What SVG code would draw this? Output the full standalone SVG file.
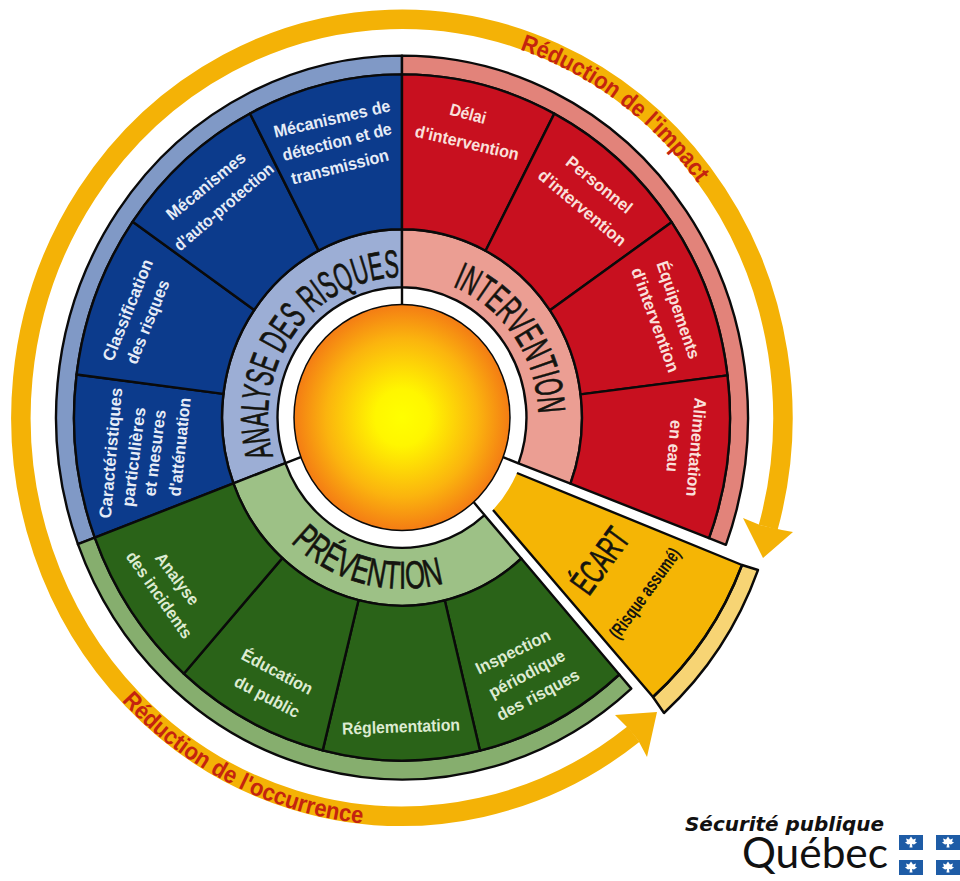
<svg xmlns="http://www.w3.org/2000/svg" xmlns:xlink="http://www.w3.org/1999/xlink" width="960" height="881" viewBox="0 0 960 881">
<style>
.s{stroke:#0a0a0a;stroke-width:2.4;stroke-linejoin:round}
.bB{fill:#8099C6}.mB{fill:#9CAED5}.dB{fill:#0C3B8C}
.bR{fill:#E2837A}.mR{fill:#EB9E93}.dR{fill:#C8101F}
.bG{fill:#86AE6E}.mG{fill:#9DC186}.dG{fill:#2A6318}
.l{font:bold 17px "Liberation Sans",Arial,sans-serif;dominant-baseline:central}
.lB{fill:#E6ECF7}.lR{fill:#FAE0DC}.lG{fill:#DDEBD2}
.h{font:39px "Liberation Sans",Arial,sans-serif;fill:#14140f;stroke:#14140f;stroke-width:.7}
.r{font:bold 24px "Liberation Sans",Arial,sans-serif;fill:#C4240F}
.gold{fill:#F4B206}
.fl{fill:#1E5CA6}.fd{fill:#fff}
</style>
<defs>
<radialGradient id="sunG" cx="50%" cy="50%" r="50%">
<stop offset="0" stop-color="#FFFF00"/><stop offset=".25" stop-color="#FFF600"/><stop offset=".7" stop-color="#FBB40E"/><stop offset="1" stop-color="#F47C14"/>
</radialGradient>
<path id="pA" d="M273.2,456.1A134 140.2 0 0 1 413,277.7"/>
<path id="pI" d="M452.6,286.5A135 141.2 0 0 1 538,430"/>
<path id="pP" d="M290.8,542.2A163 170.5 0 0 0 460,578"/>
<path id="pM" d="M519.7,49.5A371 388 0 0 1 702.1,189.4"/>
<path id="pO" d="M121.5,700.9A390 408 0 0 0 371.4,824.2"/>
<g id="fleur"><path class="fd" d="M0,-6 L2,-3 L5,-4 L4,-1 L6,0 L3,2 L1,1.5 L1.5,5 L-1.5,5 L-1,1.5 L-3,2 L-6,0 L-4,-1 L-5,-4 L-2,-3Z"/></g>
</defs>

<g id="connectors">
<path d="M768.2,527.3A381 398.5 0 1 0 633.5,734.1" fill="none" stroke="#F4B206" stroke-width="19.5"/>
<polygon class="gold" points="760,525 743,518 763,558 793,532 782,530"/>
<polygon class="gold" points="627,727 615,715 657,712 647,757 638,740"/>
<text class="r"><textPath xlink:href="#pM" href="#pM" textLength="226" lengthAdjust="spacingAndGlyphs">Réduction de l'impact</textPath></text>
<text class="r"><textPath xlink:href="#pO" href="#pO" textLength="276" lengthAdjust="spacingAndGlyphs">Réduction de l'occurrence</textPath></text>
</g>

<g id="centre">
<ellipse cx="402" cy="417.5" rx="124.5" ry="130.2" fill="#fff"/>
<path class="s" d="M402,304.5V287.3M503.1,457.2L518.5,463.3M473.6,502.1L484.5,515.1M300.8,457.1L285.4,463.1" fill="none"/>
<ellipse class="s" cx="402" cy="417.5" rx="108" ry="113" fill="url(#sunG)" style="stroke-width:1.5"/>
</g>

<g id="analyse-des-risques">
<path class="s bB" d="M94.8,537.7L77.9,544.2A346 361.9 0 0 1 402,55.6V74.4A328 343.1 0 0 0 94.8,537.7Z"/>
<path class="s mB" d="M285.4,463.1L233.4,483.4A180 188.3 0 0 1 402,229.2V287.3A124.5 130.2 0 0 0 285.4,463.1Z"/>
<text class="h"><textPath xlink:href="#pA" href="#pA" textLength="252" lengthAdjust="spacingAndGlyphs">ANALYSE DES RISQUES</textPath></text>
</g>
<g id="intervention">
<path class="s bR" d="M402,55.6A346 361.9 0 0 1 725.9,544.8L709,538.2A328 343.1 0 0 0 402,74.4Z"/>
<path class="s mR" d="M402,287.3V229.2A180 188.3 0 0 1 570.5,483.7L518.5,463.3A124.5 130.2 0 0 0 402,287.3Z"/>
<text class="h"><textPath xlink:href="#pI" href="#pI" textLength="162" lengthAdjust="spacingAndGlyphs">INTERVENTION</textPath></text>
</g>
<g id="prevention">
<path class="s bG" d="M631.3,688.6A346 361.9 0 0 1 77.9,544.2L94.8,537.7A328 343.1 0 0 0 619.3,674.5Z"/>
<path class="s mG" d="M484.5,515.1L521.3,558.5A180 188.3 0 0 1 233.4,483.4L285.4,463.1A124.5 130.2 0 0 0 484.5,515.1Z"/>
<text class="h"><textPath xlink:href="#pP" href="#pP" textLength="166" lengthAdjust="spacingAndGlyphs">PRÉVENTION</textPath></text>
</g>

<g id="caracteristiques">
<path class="s dB" d="M233.4,483.4L94.8,537.7A328 343.1 0 0 1 76.6,374.5L223.4,393.9A180 188.3 0 0 0 233.4,483.4Z"/>
<text class="l lB" transform="translate(111 453) rotate(-85)" x="-65.5" textLength="131" lengthAdjust="spacingAndGlyphs">Caractéristiques</text>
<text class="l lB" transform="translate(134 457) rotate(-83)" x="-50" textLength="100" lengthAdjust="spacingAndGlyphs">particulières</text>
<text class="l lB" transform="translate(155 453) rotate(-83)" x="-43.5" textLength="87" lengthAdjust="spacingAndGlyphs">et mesures</text>
<text class="l lB" transform="translate(180 447) rotate(-84)" x="-49.5" textLength="99" lengthAdjust="spacingAndGlyphs">d'atténuation</text>
</g>
<g id="classification">
<path class="s dB" d="M223.4,393.9L76.6,374.5A328 343.1 0 0 1 132.7,221.7L254.2,310A180 188.3 0 0 0 223.4,393.9Z"/>
<text class="l lB" transform="translate(128 310) rotate(-68)" x="-54" textLength="108" lengthAdjust="spacingAndGlyphs">Classification</text>
<text class="l lB" transform="translate(148 322) rotate(-68)" x="-44.5" textLength="89" lengthAdjust="spacingAndGlyphs">des risques</text>
</g>
<g id="auto-protection">
<path class="s dB" d="M254.2,310L132.7,221.7A328 343.1 0 0 1 250,113.5L318.6,250.6A180 188.3 0 0 0 254.2,310Z"/>
<text class="l lB" transform="translate(206 186) rotate(-39.5)" x="-48.5" textLength="97" lengthAdjust="spacingAndGlyphs">Mécanismes</text>
<text class="l lB" transform="translate(224 207) rotate(-40.5)" x="-62.5" textLength="125" lengthAdjust="spacingAndGlyphs">d'auto-protection</text>
</g>
<g id="detection">
<path class="s dB" d="M318.6,250.6L250,113.5A328 343.1 0 0 1 402,74.4V229.2A180 188.3 0 0 0 318.6,250.6Z"/>
<text class="l lB" transform="translate(332 119) rotate(-13)" x="-59.5" textLength="119" lengthAdjust="spacingAndGlyphs">Mécanismes de</text>
<text class="l lB" transform="translate(337 142) rotate(-14)" x="-56" textLength="112" lengthAdjust="spacingAndGlyphs">détection et de</text>
<text class="l lB" transform="translate(340 167) rotate(-14)" x="-50" textLength="100" lengthAdjust="spacingAndGlyphs">transmission</text>
</g>

<g id="delai">
<path class="s dR" d="M402,229.2V74.4A328 343.1 0 0 1 554.3,113.6L485.6,250.7A180 188.3 0 0 0 402,229.2Z"/>
<text class="l lR" transform="translate(468 114) rotate(15)" x="-18.5" textLength="37" lengthAdjust="spacingAndGlyphs">Délai</text>
<text class="l lR" transform="translate(467 143) rotate(13)" x="-53" textLength="106" lengthAdjust="spacingAndGlyphs">d'intervention</text>
</g>
<g id="personnel">
<path class="s dR" d="M485.6,250.7L554.3,113.6A328 343.1 0 0 1 671.6,222.2L550,310.3A180 188.3 0 0 0 485.6,250.7Z"/>
<text class="l lR" transform="translate(599 185) rotate(39)" x="-40" textLength="80" lengthAdjust="spacingAndGlyphs">Personnel</text>
<text class="l lR" transform="translate(582 208) rotate(40)" x="-54.5" textLength="109" lengthAdjust="spacingAndGlyphs">d'intervention</text>
</g>
<g id="equipements">
<path class="s dR" d="M550,310.3L671.6,222.2A328 343.1 0 0 1 727.5,375.4L580.6,394.4A180 188.3 0 0 0 550,310.3Z"/>
<text class="l lR" transform="translate(678 310) rotate(71)" x="-51" textLength="102" lengthAdjust="spacingAndGlyphs">Équipements</text>
<text class="l lR" transform="translate(655 320) rotate(70)" x="-55" textLength="110" lengthAdjust="spacingAndGlyphs">d'intervention</text>
</g>
<g id="alimentation">
<path class="s dR" d="M580.6,394.4L727.5,375.4A328 343.1 0 0 1 709,538.2L570.5,483.7A180 188.3 0 0 0 580.6,394.4Z"/>
<text class="l lR" transform="translate(696 447) rotate(95)" x="-49.5" textLength="99" lengthAdjust="spacingAndGlyphs">Alimentation</text>
<text class="l lR" transform="translate(674 446) rotate(95)" x="-26" textLength="52" lengthAdjust="spacingAndGlyphs">en eau</text>
</g>

<g id="inspection">
<path class="s dG" d="M521.3,558.5L619.3,674.5A328 343.1 0 0 1 480,750.7L444.8,600.4A180 188.3 0 0 0 521.3,558.5Z"/>
<text class="l lG" transform="translate(513 652) rotate(-26)" x="-40.5" textLength="81" lengthAdjust="spacingAndGlyphs">Inspection</text>
<text class="l lG" transform="translate(527 674) rotate(-28)" x="-42" textLength="84" lengthAdjust="spacingAndGlyphs">périodique</text>
<text class="l lG" transform="translate(538 695) rotate(-28)" x="-45.5" textLength="91" lengthAdjust="spacingAndGlyphs">des risques</text>
</g>
<g id="reglementation">
<path class="s dG" d="M444.8,600.4L480,750.7A328 343.1 0 0 1 322.7,750.4L358.5,600.2A180 188.3 0 0 0 444.8,600.4Z"/>
<text class="l lG" transform="translate(401 727) rotate(-2)" x="-59" textLength="118" lengthAdjust="spacingAndGlyphs">Réglementation</text>
</g>
<g id="education">
<path class="s dG" d="M358.5,600.2L322.7,750.4A328 343.1 0 0 1 183.8,673.7L282.3,558.1A180 188.3 0 0 0 358.5,600.2Z"/>
<text class="l lG" transform="translate(277 672) rotate(28)" x="-39" textLength="78" lengthAdjust="spacingAndGlyphs">Éducation</text>
<text class="l lG" transform="translate(267 697) rotate(28)" x="-35.5" textLength="71" lengthAdjust="spacingAndGlyphs">du public</text>
</g>
<g id="analyse-incidents">
<path class="s dG" d="M282.3,558.1L183.8,673.7A328 343.1 0 0 1 94.8,537.7L233.4,483.4A180 188.3 0 0 0 282.3,558.1Z"/>
<text class="l lG" transform="translate(177 579) rotate(53)" x="-30.5" textLength="61" lengthAdjust="spacingAndGlyphs">Analyse</text>
<text class="l lG" transform="translate(159 595) rotate(55)" x="-51" textLength="102" lengthAdjust="spacingAndGlyphs">des incidents</text>
</g>

<g id="ecart">
<path fill="#F5B505" d="M517,473L742,565A328 343.1 0 0 1 653,697L493,510A127 132.8 0 0 0 517,473Z"/>
<path class="s" fill="#F7D474" d="M742,565L758,570A346 361.9 0 0 1 664,713L653,697A328 343.1 0 0 0 742,565Z"/>
<path class="s" fill="none" d="M517,473L742,565A328 343.1 0 0 1 653,697L493,510"/>
<text transform="translate(610 568) rotate(-54)" x="-36" textLength="72" lengthAdjust="spacingAndGlyphs" font-family="'Liberation Sans',Arial,sans-serif" font-size="36" stroke="#14140f" stroke-width=".7" fill="#14140f">ÉCART</text>
<text transform="translate(650 597) rotate(-54)" x="-53.5" textLength="107" lengthAdjust="spacingAndGlyphs" font-family="'Liberation Sans',Arial,sans-serif" font-weight="bold" font-size="19" fill="#14140f">(Risque assumé)</text>
</g>

<g id="logo">
<text x="685" y="831" textLength="199" lengthAdjust="spacingAndGlyphs" font-family="'DejaVu Sans',sans-serif" font-weight="bold" font-style="italic" font-size="19" fill="#111">Sécurité publique</text>
<text x="742" y="868" textLength="146" lengthAdjust="spacingAndGlyphs" font-family="Lato,'Open Sans',sans-serif" font-size="42" fill="#111">Québec</text>
<rect class="fl" x="899" y="835" width="24" height="15"/><rect class="fl" x="936" y="835" width="24" height="15"/>
<rect class="fl" x="899" y="860" width="24" height="15"/><rect class="fl" x="936" y="860" width="24" height="15"/>
<use href="#fleur" x="911" y="842.5"/><use href="#fleur" x="948" y="842.5"/><use href="#fleur" x="911" y="867.5"/><use href="#fleur" x="948" y="867.5"/>
</g>
</svg>
